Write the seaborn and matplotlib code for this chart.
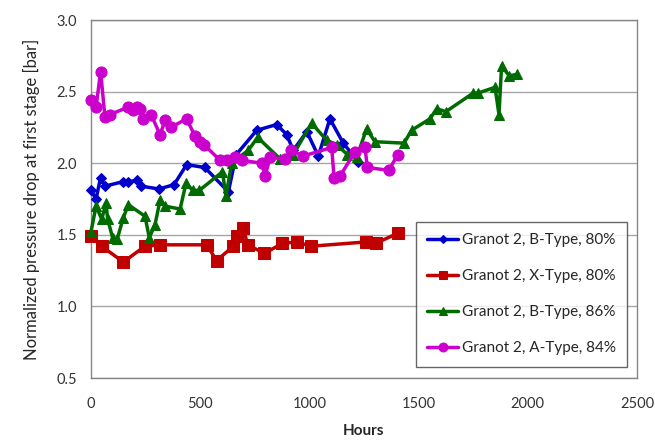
import pandas as pd
import matplotlib
matplotlib.use("Agg")
import matplotlib.pyplot as plt
import seaborn as sns

# values
blue_hours = [0, 23, 44, 64, 145, 168, 212, 228, 311, 380, 438, 521, 629, 665,
              759, 850, 896, 926, 988, 1041, 1094, 1155, 1224]
blue_vals = [1.81, 1.75, 1.90, 1.84, 1.87, 1.87, 1.88, 1.84, 1.82, 1.85, 1.99,
             1.97, 1.80, 2.06, 2.23, 2.27, 2.20, 2.09, 2.22, 2.05, 2.31, 2.14, 2.01]

red_hours = [0, 49, 148, 247, 316, 530, 575, 652, 667, 697, 717, 794, 876, 942,
             1007, 1258, 1303, 1404]
red_vals = [1.49, 1.42, 1.31, 1.42, 1.43, 1.43, 1.32, 1.42, 1.49, 1.55, 1.43,
            1.37, 1.44, 1.45, 1.42, 1.45, 1.44, 1.51]

green_hours = [0, 23, 49, 69, 76, 99, 120, 148, 171, 247, 267, 293, 316, 339,
               408, 435, 466, 496, 602, 618, 644, 720, 763, 866, 926, 1010, 1079,
               1125, 1174, 1216, 1262, 1300, 1433, 1468, 1552, 1583, 1625, 1750,
               1773, 1850, 1868, 1880, 1915, 1949]
green_vals = [1.52, 1.70, 1.61, 1.72, 1.61, 1.48, 1.47, 1.62, 1.71, 1.63, 1.48,
              1.57, 1.74, 1.70, 1.68, 1.86, 1.81, 1.81, 1.94, 1.77, 2.00, 2.09,
              2.18, 2.03, 2.06, 2.28, 2.16, 2.13, 2.06, 2.04, 2.24, 2.15, 2.14,
              2.23, 2.31, 2.38, 2.36, 2.49, 2.49, 2.53, 2.34, 2.68, 2.61, 2.62]

pink_hours = [0, 23, 44, 64, 87, 168, 194, 209, 224, 240, 275, 316, 340, 365,
              438, 476, 499, 517, 591, 621, 659, 690, 782, 797, 820, 888, 914,
              972, 1102, 1113, 1140, 1209, 1255, 1265, 1364, 1404]
pink_vals = [2.44, 2.39, 2.64, 2.32, 2.34, 2.39, 2.37, 2.39, 2.38, 2.31, 2.34,
             2.20, 2.30, 2.25, 2.31, 2.19, 2.15, 2.13, 2.02, 2.02, 2.04, 2.02,
             2.00, 1.91, 2.04, 2.03, 2.09, 2.05, 2.11, 1.90, 1.91, 2.08, 2.11,
             1.97, 1.95, 2.06]

labels = ["Granot 2, B-Type, 80%", "Granot 2, X-Type, 80%",
          "Granot 2, B-Type, 86%", "Granot 2, A-Type, 84%"]


def main():
    sns.set_style("white")
    plt.rcParams["font.family"] = ["Lato", "DejaVu Sans"]

    series = [
        (blue_hours, blue_vals, "#0000CC", "D", 5),
        (red_hours, red_vals, "#C00000", "s", 8),
        (green_hours, green_vals, "#006B00", "^", 7),
        (pink_hours, pink_vals, "#CC00CC", "o", 8),
    ]

    fig = plt.figure(figsize=(6.55, 4.40), dpi=100)
    ax = fig.add_axes([91 / 655, 1 - 378 / 440, 546 / 655, 358 / 440])

    for (hrs, vals, col, mk, ms), lab in zip(series, labels):
        df = pd.DataFrame({"Hours": hrs, "dp": vals})
        sns.lineplot(data=df, x="Hours", y="dp", ax=ax, sort=False,
                     estimator=None, color=col, marker=mk, markersize=ms,
                     markeredgecolor=col, linewidth=2.5, label=lab,
                     clip_on=False, zorder=3)

    ax.set_xlim(0, 2500)
    ax.set_ylim(0.5, 3.0)
    ax.set_xticks(range(0, 2501, 500))
    ax.set_yticks([0.5, 1.0, 1.5, 2.0, 2.5, 3.0])
    ax.set_yticklabels(["0.5", "1.0", "1.5", "2.0", "2.5", "3.0"])
    ax.yaxis.grid(True, color="#A6A6A6", linewidth=1)
    ax.set_axisbelow(True)
    for s in ax.spines.values():
        s.set_color("#868686")
        s.set_linewidth(1)
    ax.tick_params(axis="both", direction="out", length=4, width=1,
                   color="#868686", labelsize=10.5, labelcolor="#333333", pad=6)
    ax.tick_params(axis="x", pad=10)

    ax.set_xlabel("Hours", fontsize=11, fontweight="bold", labelpad=9)
    ax.set_ylabel("Normalized pressure drop at first stage [bar]", fontsize=12,
                  labelpad=12)

    leg = ax.legend(loc="lower right", bbox_to_anchor=(0.982, 0.031),
                    borderaxespad=0, fontsize=11, labelspacing=1.45,
                    handlelength=2.0, handletextpad=0.25, borderpad=0.75,
                    fancybox=False, frameon=True, markerscale=0.8)
    leg.get_frame().set_edgecolor("#404040")
    leg.get_frame().set_linewidth(1)
    leg.set_zorder(5)

    fig.savefig("out.png", dpi=100)


if __name__ == "__main__":
    main()
